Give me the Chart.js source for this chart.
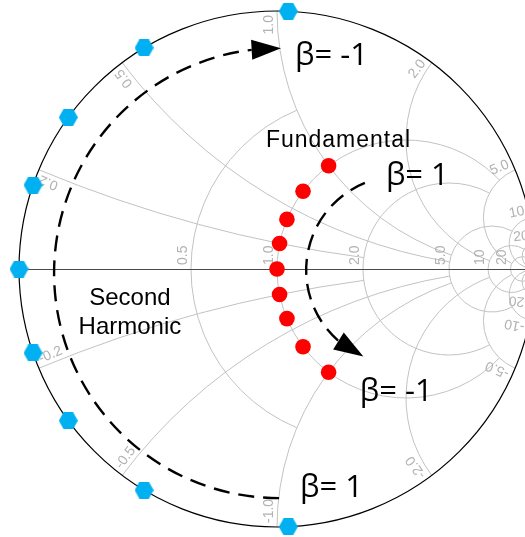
<!DOCTYPE html>
<html>
<head>
<meta charset="utf-8">
<script src="https://cdn.jsdelivr.net/npm/chart.js@4.4.0/dist/chart.umd.min.js"></script>
<style>
  html, body { margin: 0; padding: 0; background: #fff; overflow: hidden; }
  #smith { display: block; }
</style>
</head>
<body>
<canvas id="smith" width="545" height="537"></canvas>
<script>
//fundamental load states, normalized impedance r + jx (all sit on the r = 1 circle)
var fundamentalR = [1, 1, 1, 1, 1, 1, 1, 1, 1];
var fundamentalX = [1.0, 0.67, 0.4, 0.2, 0, -0.2, -0.4, -0.67, -1.0];

//second harmonic terminations on the edge of the chart: |gamma| and phase in degrees
var harmonicMag = [1, 1, 1, 1, 1, 1, 1, 1, 1];
var harmonicPhase = [87.5, 121, 144, 161, 180, 199, 216, 239, 272.5];

//resistance circles, and how far (in |x|) each one is drawn
var gridR = [0.5, 1, 2, 5, 10, 20];
var gridRLimit = [1, 5, 5, 10, 20, 50];
var gridRLabels = ['0.5', '1.0', '2.0', '5.0', '10', '20'];

//reactance arcs, and the largest resistance each one reaches
var gridX = [0.2, 0.5, 1, 2, 5, 10, 20];
var gridXLimit = [2, 5, 5, 10, 20, 50, 50];
var gridXLabels = ['0.2', '0.5', '1.0', '2.0', '5.0', '10', '20'];


//reflection coefficient for a normalized impedance r + jx
function gamma(r, x)
{
    var d = (r + 1) * (r + 1) + x * x;
    return { x: (r * r - 1 + x * x) / d, y: 2 * x / d };
}

//point on a circle of radius mag at angle deg
function polar(mag, deg)
{
    var t = deg * Math.PI / 180;
    return { x: mag * Math.cos(t), y: mag * Math.sin(t) };
}

//flat-topped hexagon used as the point style of the harmonic points
function makeHexagon(w, h, color)
{
    var c = document.createElement('canvas');
    c.width = w;
    c.height = h;
    var g = c.getContext('2d');
    g.fillStyle = color;
    g.beginPath();
    g.moveTo(0, h / 2);
    g.lineTo(w / 4, 0);
    g.lineTo(3 * w / 4, 0);
    g.lineTo(w, h / 2);
    g.lineTo(3 * w / 4, h);
    g.lineTo(w / 4, h);
    g.closePath();
    g.fill();
    return c;
}

var fundamentalPts = fundamentalR.map(function(r, i){ return gamma(r, fundamentalX[i]); });
var harmonicPts = harmonicPhase.map(function(a, i){ return polar(harmonicMag[i], a); });

//helpers that work in gamma units through the chart scales
function toPx(chart, p)
{
    return { x: chart.scales.x.getPixelForValue(p.x), y: chart.scales.y.getPixelForValue(p.y) };
}
function unitPx(chart)
{
    return chart.scales.x.getPixelForValue(1) - chart.scales.x.getPixelForValue(0);
}

//draw the shorter arc between two pixel points on a circle
function arcBetween(ctx, cen, rad, p1, p2)
{
    var a1 = Math.atan2(p1.y - cen.y, p1.x - cen.x);
    var a2 = Math.atan2(p2.y - cen.y, p2.x - cen.x);
    var d = a2 - a1;
    while (d > Math.PI) d -= 2 * Math.PI;
    while (d <= -Math.PI) d += 2 * Math.PI;
    ctx.beginPath();
    ctx.arc(cen.x, cen.y, rad, a1, a1 + d, d < 0);
    ctx.stroke();
}

//smith chart grid, drawn under the points
var smithGrid = {
    id: 'smithGrid',
    beforeDatasetsDraw: function(chart) {
        var ctx = chart.ctx;
        var unit = unitPx(chart);
        var c = toPx(chart, {x: 0, y: 0});

        ctx.save();
        ctx.strokeStyle = '#c2c2c2';
        ctx.lineWidth = 1;

        //constant resistance circles
        gridR.forEach(function(r, i) {
            var cen = toPx(chart, {x: r / (1 + r), y: 0});
            var rad = unit / (1 + r);
            var end = toPx(chart, gamma(r, gridRLimit[i]));
            var a = Math.atan2(end.y - cen.y, end.x - cen.x);
            ctx.beginPath();
            ctx.arc(cen.x, cen.y, rad, -a, 2 * Math.PI + a, false);
            ctx.stroke();
        });

        //constant reactance arcs, both signs
        gridX.forEach(function(x, i) {
            [x, -x].forEach(function(xv) {
                var cen = toPx(chart, {x: 1, y: 1 / xv});
                var rad = unit / Math.abs(xv);
                var p1 = toPx(chart, gamma(0, xv));
                var p2 = toPx(chart, gamma(gridXLimit[i], xv));
                arcBetween(ctx, cen, rad, p1, p2);
            });
        });

        //real axis, kept on a whole pixel row so it stays sharp
        ctx.strokeStyle = '#4a4a4a';
        ctx.beginPath();
        ctx.moveTo(toPx(chart, {x: -1, y: 0}).x, Math.round(c.y) + 0.5);
        ctx.lineTo(chart.width, Math.round(c.y) + 0.5);
        ctx.stroke();

        //outer |gamma| = 1 circle
        ctx.strokeStyle = '#000';
        ctx.lineWidth = 1.2;
        ctx.beginPath();
        ctx.arc(c.x, c.y, unit, 0, 2 * Math.PI);
        ctx.stroke();

        //grid labels
        ctx.fillStyle = '#b2b2b2';
        ctx.font = '14px "Liberation Sans", Arial, sans-serif';
        ctx.textBaseline = 'alphabetic';

        gridR.forEach(function(r, i) {
            var edge = toPx(chart, {x: (r - 1) / (r + 1), y: 0});
            ctx.save();
            ctx.translate(edge.x - 4, edge.y - 4);
            ctx.rotate(-Math.PI / 2);
            ctx.textAlign = 'left';
            ctx.fillText(gridRLabels[i], 0, 0);
            ctx.restore();
        });

        gridX.forEach(function(x, i) {
            var g = gamma(0, x);
            var phi = Math.atan2(g.y, g.x);
            var top = toPx(chart, g);
            var bot = toPx(chart, gamma(0, -x));

            //upper half reads outward
            ctx.save();
            ctx.translate(top.x, top.y);
            ctx.rotate(-phi);
            ctx.textAlign = 'right';
            ctx.fillText(gridXLabels[i], -4, -4);
            ctx.restore();

            //lower half reads inward
            ctx.save();
            ctx.translate(bot.x, bot.y);
            ctx.rotate(phi - Math.PI);
            ctx.textAlign = 'left';
            ctx.fillText('-' + gridXLabels[i], 4, -4);
            ctx.restore();
        });

        ctx.restore();
    }
};

//dashed sweep arcs with arrow heads (gamma units, angles in degrees)
var sweeps = [
    { cx: 0.008, cy: -0.016, r: 0.872, from: 270, to: 97, tip: 89.5 },
    { cx: 0.477, cy: -0.004, r: 0.364, from: 112, to: 229, tip: 247 }
];

//text notes, placed in gamma units
var notes = [
    { text: 'β= -1', x: 0.07, y: 0.791, font: '31px "Open Sans", sans-serif', align: 'left' },
    { text: 'β= 1', x: 0.422, y: 0.326, font: '31px "Open Sans", sans-serif', align: 'left' },
    { text: 'β= -1', x: 0.321, y: -0.512, font: '31px "Open Sans", sans-serif', align: 'left' },
    { text: 'β= 1', x: 0.089, y: -0.884, font: '31px "Open Sans", sans-serif', align: 'left' },
    { text: 'Fundamental', x: -0.043, y: 0.473, font: '23px "Liberation Sans", Arial, sans-serif', align: 'left', spacing: '1px' },
    { text: 'Second', x: -0.57, y: -0.14, font: '24px "Liberation Sans", Arial, sans-serif', align: 'center' },
    { text: 'Harmonic', x: -0.57, y: -0.252, font: '24px "Liberation Sans", Arial, sans-serif', align: 'center' }
];

var annotations = {
    id: 'annotations',
    afterDatasetsDraw: function(chart) {
        var ctx = chart.ctx;
        var unit = unitPx(chart);
        var d2r = Math.PI / 180;

        ctx.save();
        ctx.strokeStyle = '#000';
        ctx.fillStyle = '#000';
        ctx.lineWidth = 2.4;

        sweeps.forEach(function(s) {
            var cen = toPx(chart, {x: s.cx, y: s.cy});
            var rad = s.r * unit;
            ctx.setLineDash([16, 9]);
            ctx.beginPath();
            ctx.arc(cen.x, cen.y, rad, -s.from * d2r, -s.to * d2r, s.to > s.from);
            ctx.stroke();
            ctx.setLineDash([]);

            //arrow head from the end of the dashes to the tip
            var tip = { x: cen.x + rad * Math.cos(s.tip * d2r), y: cen.y - rad * Math.sin(s.tip * d2r) };
            var base = { x: cen.x + rad * Math.cos(s.to * d2r), y: cen.y - rad * Math.sin(s.to * d2r) };
            var len = Math.hypot(tip.x - base.x, tip.y - base.y);
            var nx = -(tip.y - base.y) / len, ny = (tip.x - base.x) / len;
            ctx.beginPath();
            ctx.moveTo(tip.x, tip.y);
            ctx.lineTo(base.x + nx * 10, base.y + ny * 10);
            ctx.lineTo(base.x - nx * 10, base.y - ny * 10);
            ctx.closePath();
            ctx.fill();
        });

        ctx.textBaseline = 'alphabetic';
        notes.forEach(function(n) {
            var p = toPx(chart, n);
            ctx.font = n.font;
            ctx.textAlign = n.align;
            ctx.letterSpacing = n.spacing || '0px';
            ctx.fillText(n.text, p.x, p.y);
        });
        ctx.restore();
    }
};

var smithChart = new Chart(document.getElementById('smith'), {
    type: 'scatter',
    data: {
        datasets: [
            {
                label: 'Second Harmonic',
                data: harmonicPts,
                pointStyle: makeHexagon(19, 17, '#00b0f0'),
                clip: false
            },
            {
                label: 'Fundamental',
                data: fundamentalPts,
                pointStyle: 'circle',
                pointRadius: 7.8,
                pointBorderWidth: 0,
                backgroundColor: '#ff0000',
                borderColor: '#ff0000',
                clip: false
            }
        ]
    },
    options: {
        responsive: false,
        animation: false,
        devicePixelRatio: 1,
        layout: { padding: { left: 19, right: 10, top: 11, bottom: 10 } },
        scales: {
            x: { type: 'linear', min: -1, max: 1, display: false },
            y: { type: 'linear', min: -1, max: 1, display: false }
        },
        plugins: {
            legend: { display: false },
            tooltip: { enabled: false }
        }
    },
    plugins: [smithGrid, annotations]
});
</script>
</body>
</html>
